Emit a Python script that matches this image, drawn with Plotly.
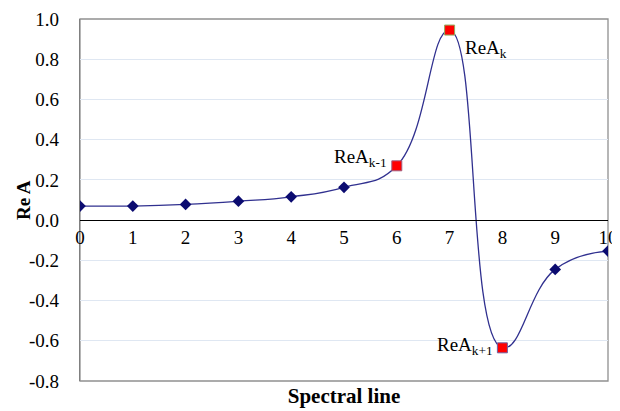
import plotly.graph_objects as go

x_vals = [0, 1, 2, 3, 4, 5, 6, 7, 8, 9, 10]
re_a = [0.07, 0.07, 0.078, 0.094, 0.116, 0.163, 0.27, 0.945, -0.635, -0.245, -0.154]
special_idx = [6, 7, 8]
special_labels = ["ReA<sub>k-1</sub>", "ReA<sub>k</sub>", "ReA<sub>k+1</sub>"]
y_ticks = [1.0, 0.8, 0.6, 0.4, 0.2, 0.0, -0.2, -0.4, -0.6, -0.8]

FONT = "Liberation Serif, Times New Roman, serif"
y_min, y_max = -0.8, 1.0

diamond_x = [x for i, x in enumerate(x_vals) if i not in special_idx]
diamond_y = [y for i, y in enumerate(re_a) if i not in special_idx]
sq_x = [x_vals[i] for i in special_idx]
sq_y = [re_a[i] for i in special_idx]

fig = go.Figure()
fig.add_trace(go.Scatter(x=x_vals, y=re_a, mode="lines",
                         line=dict(color="#30308f", width=1.3, shape="spline", smoothing=1.3),
                         showlegend=False, hoverinfo="skip"))
fig.add_trace(go.Scatter(x=diamond_x, y=diamond_y, mode="markers",
                         marker=dict(symbol="diamond", size=9, color="#0b0b70"),
                         showlegend=False))
fig.add_trace(go.Scatter(x=sq_x, y=sq_y, mode="markers",
                         marker=dict(symbol="square", size=10, color="#ff0000",
                                     line=dict(color=["#a06080", "#90b060", "#7060a0"], width=1)),
                         showlegend=False))

# labels for special points (offsets in pixels from the marker)
offsets = [(-36, 8), (36, -19), (-37, 2)]
for (i, lab, (dx, dy)) in zip(special_idx, special_labels, offsets):
    fig.add_annotation(x=x_vals[i], y=re_a[i], text=lab, showarrow=False,
                       xshift=dx, yshift=dy, font=dict(family=FONT, size=19, color="black"),
                       xanchor="center", yanchor="middle")

# y-axis title placed precisely
fig.add_annotation(x=0, y=0.5, xref="paper", yref="paper", text="<b>Re A</b>",
                   textangle=-90, showarrow=False, xanchor="center", yanchor="middle",
                   xshift=-57, font=dict(family=FONT, size=19, color="black"))

# the page has an 8px body margin, so the figure is 8px smaller and left/top margins shifted
fig.update_layout(
    width=612, height=403,
    margin=dict(l=72, r=12, t=11, b=30, autoexpand=False),
    paper_bgcolor="white", plot_bgcolor="white",
    font=dict(family=FONT, size=19, color="black"),
    xaxis=dict(range=[0, 10], showgrid=False, zeroline=False, showticklabels=False,
               ticks="", showline=False, automargin=False,
               title=dict(text="<b>Spectral line</b>", standoff=7, font=dict(family=FONT, size=21))),
    xaxis2=dict(range=[0, 10], matches="x", overlaying="x", anchor="free",
                position=(0 - y_min) / (y_max - y_min), showgrid=False, zeroline=False,
                showline=True, linecolor="black", linewidth=1.3, ticks="", automargin=False,
                tickmode="array", tickvals=x_vals, ticktext=[str(v) for v in x_vals],
                tickfont=dict(family=FONT, size=19)),
    yaxis=dict(range=[y_min, y_max], tickmode="array", tickvals=y_ticks,
               ticktext=[f"{v:.1f}" for v in y_ticks], showgrid=True, gridcolor="#dfe7f2",
               gridwidth=1, zeroline=False, showline=True, linecolor="#808080", linewidth=1.3,
               ticks="", ticklabelstandoff=16, tickfont=dict(family=FONT, size=19), automargin=False),
)
# dummy trace to activate xaxis2
fig.add_trace(go.Scatter(x=[0], y=[0], xaxis="x2", mode="markers",
                         marker=dict(opacity=0), showlegend=False, hoverinfo="skip"))
# plot border
fig.add_shape(type="rect", xref="paper", yref="paper", x0=0, y0=0, x1=1, y1=1,
              line=dict(color="#909090", width=1.3), layer="below")

fig.write_html("out.html")
